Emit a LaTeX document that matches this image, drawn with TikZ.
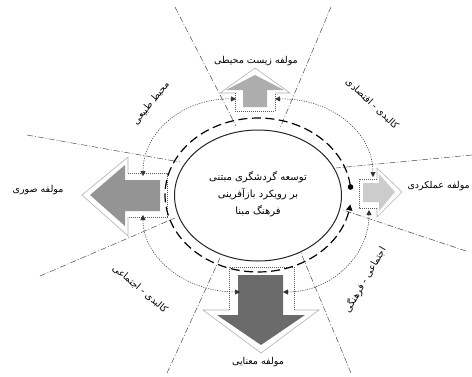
\documentclass[tikz,border=0pt]{standalone}
\usepackage{fontspec}
\usetikzlibrary{arrows.meta}
\newfontfamily\arabicfont[Script=Arabic]{DejaVu Sans}
\TeXXeTstate=1
\newcommand{\ptxt}[1]{\beginR #1\endR}
\tikzset{
  mring/.style={draw=black!85, line width=1pt},
  mflow/.style={draw=black, line width=1.2pt, dash pattern=on 9pt off 4.5pt},
  msector/.style={draw=black!70, line width=0.5pt, dash pattern=on 6pt off 2pt on 1pt off 2pt},
  mlink/.style={draw=black!80, line width=0.5pt, dash pattern=on 1.2pt off 1.2pt,
     {Triangle[length=5pt,width=5pt]}-{Triangle[length=5pt,width=5pt]}},
  mout/.style={draw=black!30, line width=0.6pt},
  mshaft/.style={draw=black!65, line width=0.5pt, dash pattern=on 1pt off 1pt},
  mtxt/.style={font=\arabicfont\fontsize{9.5}{11}\selectfont, inner sep=1pt, text=black},
}
\begin{document}
\begin{tikzpicture}[x=1pt,y=-1pt]
\fill[white] (0,0) rectangle (472,376);
\useasboundingbox (0,0) rectangle (472,376);

% sector lines
\coordinate (a1) at (175,7);   \coordinate (a2) at (236,126);
\coordinate (b1) at (331,7);   \coordinate (b2) at (280,128);
\coordinate (c1) at (27,135);  \coordinate (c2) at (180,162);
\coordinate (d1) at (472,155); \coordinate (d2) at (336,168);
\coordinate (e1) at (466,251); \coordinate (e2) at (343,210);
\coordinate (f1) at (351,373); \coordinate (f2) at (301,253);
\coordinate (g1) at (167,373); \coordinate (g2) at (220,258);
\coordinate (h1) at (40,276);  \coordinate (h2) at (175,218);
\foreach \p in {a,b,c,d,e,f,g,h} \draw[msector] (\p1) -- (\p2);

% top arrow
\fill[black!32] (255,75) -- (284,90) -- (267,90) -- (267,107) -- (243,107) -- (243,90) -- (226,90) -- cycle;
\draw[mout] (235,93) -- (220,93) -- (255,68) -- (290,93) -- (275,93);
\draw[mshaft] (235,93) -- (235,111) -- (275,111) -- (275,93);

% left arrow
\fill[black!42] (90,195) -- (125,165) -- (125,180) -- (160,180) -- (160,211) -- (125,211) -- (125,226) -- cycle;
\draw[mout] (128,173) -- (128,157) -- (82,195) -- (128,236) -- (128,217);
\draw[mshaft] (128,173) -- (167,173) -- (167,217) -- (128,217);

% right arrow
\fill[black!20] (395,192) -- (379,174) -- (379,183) -- (363,183) -- (363,202) -- (379,202) -- (379,211) -- cycle;
\draw[mout] (377,179) -- (377,168) -- (402,192) -- (377,217) -- (377,208);
\draw[mshaft] (377,179) -- (359,179) -- (359,208) -- (377,208);

% bottom arrow
\fill[black!58] (261,345) -- (305,315) -- (283,315) -- (283,275) -- (238,275) -- (238,315) -- (217,315) -- cycle;
\draw[mout] (229,310) -- (203,310) -- (261,353) -- (319,310) -- (294,310);
\draw[mshaft] (229,310) -- (229,267) -- (294,267) -- (294,310);

% ellipses
\draw[mring] (258,195.5) ellipse [x radius=83.5pt, y radius=65.5pt];
\draw[mflow, -{Triangle[length=6pt,width=6pt]}] plot[domain=7:353, samples=120] ({258+93*cos(\x)},{195-77*sin(\x)});
\fill (350.5,187) circle [radius=2.8pt];

% dotted links
\coordinate (tl) at (236,99);  \coordinate (tr) at (275,99);
\coordinate (lt) at (143,176); \coordinate (lb) at (143,215);
\coordinate (rt) at (373,177); \coordinate (rb) at (369,210);
\coordinate (bl) at (240,292); \coordinate (br) at (283,292);
\draw[mlink] (tl) .. controls (183,98) and (143,132) .. (lt);
\draw[mlink] (tr) .. controls (331,98) and (373,132) .. (rt);
\draw[mlink] (rb) .. controls (369,257) and (330,292) .. (br);
\draw[mlink] (bl) .. controls (186,292) and (143,258) .. (lb);

% texts
\node[mtxt, font=\arabicfont\fontsize{10}{17}\selectfont, align=center] (core) at (258,194)
  {\ptxt{توسعه گردشگری مبتنی}\\ \ptxt{بر رویکرد بازآفرینی}\\ \ptxt{فرهنگ مبنا}};
\node[mtxt] (ttop) at (256,61) {\ptxt{مولفه زیست محیطی}};
\node[mtxt] (tleft) at (38,190) {\ptxt{مولفه صوری}};
\node[mtxt, anchor=east] (tright) at (471,186) {\ptxt{مولفه عملکردی}};
\node[mtxt] (tbot) at (258,362) {\ptxt{مولفه معنایی}};
\node[mtxt, rotate=51] (s1) at (151,103) {\ptxt{محیط طبیعی}};
\node[mtxt, rotate=-43] (s2) at (372,104) {\ptxt{کالبدی - اقتصادی}};
\node[mtxt, rotate=60] (s3) at (365,280) {\ptxt{اجتماعی - فرهنگی}};
\node[mtxt, rotate=-40] (s4) at (140,289) {\ptxt{کالبدی - اجتماعی}};
\end{tikzpicture}
\end{document}
